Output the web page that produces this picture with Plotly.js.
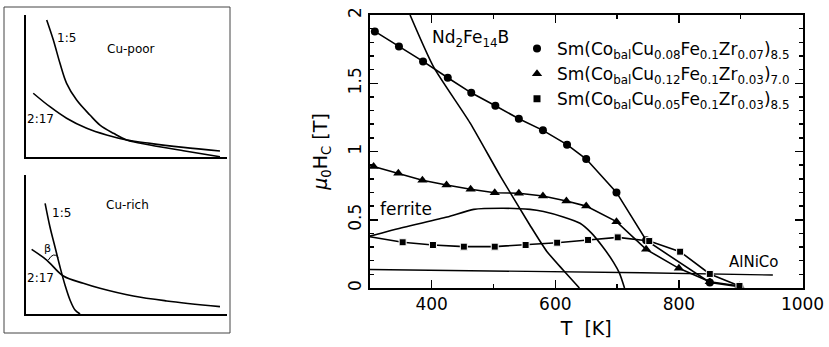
<!DOCTYPE html>
<html>
<head>
<meta charset="utf-8">
<script src="https://cdn.plot.ly/plotly-3.0.1.min.js"></script>
<style>html,body{margin:0;padding:0;background:#fff;}#chart{width:829px;height:347px;}</style>
</head>
<body>
<div id="chart"></div>
<script>
// ---------- main plot data (T in K, mu0Hc in T) ----------
const seriesNames = [
  'Sm(Co<sub>bal</sub>Cu<sub>0.08</sub>Fe<sub>0.1</sub>Zr<sub>0.07</sub>)<sub>8.5</sub>',
  'Sm(Co<sub>bal</sub>Cu<sub>0.12</sub>Fe<sub>0.1</sub>Zr<sub>0.03</sub>)<sub>7.0</sub>',
  'Sm(Co<sub>bal</sub>Cu<sub>0.05</sub>Fe<sub>0.1</sub>Zr<sub>0.03</sub>)<sub>8.5</sub>'
];
const T_circ = [308, 347, 386, 426, 464, 503, 541, 580, 619, 650, 699, 747, 850, 898];
const H_circ = [1.88, 1.77, 1.66, 1.54, 1.43, 1.335, 1.24, 1.155, 1.05, 0.945, 0.70, 0.35, 0.04, 0.01];
const T_tri = [306, 346, 385, 424, 463, 502, 541, 580, 618, 650, 699, 747, 800, 850, 898];
const H_tri = [0.89, 0.84, 0.79, 0.755, 0.723, 0.698, 0.694, 0.674, 0.637, 0.60, 0.486, 0.283, 0.144, 0.046, 0.015];
const T_sq = [300, 353, 402, 452, 502, 552, 603, 653, 701, 752, 802, 850, 898];
const H_sq = [0.376, 0.335, 0.315, 0.303, 0.303, 0.315, 0.332, 0.352, 0.371, 0.344, 0.266, 0.103, 0.015];
const T_nd = [365, 403, 462, 511, 559, 586, 613, 639];
const H_nd = [2.0, 1.62, 1.21, 0.82, 0.46, 0.27, 0.13, 0.0];
const T_fer = [300, 355, 425, 468, 516, 559, 581, 613, 640, 659, 677, 694, 704, 712];
const H_fer = [0.38, 0.445, 0.52, 0.576, 0.584, 0.576, 0.56, 0.52, 0.474, 0.40, 0.30, 0.19, 0.107, 0.0];
const T_alnico = [300, 740, 952];
const H_alnico = [0.135, 0.112, 0.095];
const xTicks = [400, 600, 800, 1000];
const yTicks = [0, 0.5, 1, 1.5, 2];

// ---------- schematic panels (normalised T, K1) ----------
const poor15_x = [0.103, 0.136, 0.169, 0.202, 0.252, 0.318, 0.368, 0.435, 0.501, 0.617, 0.783, 0.965];
const poor15_y = [0.965, 0.824, 0.660, 0.519, 0.401, 0.296, 0.225, 0.167, 0.120, 0.085, 0.044, 0.002];
const poor217_x = [0.036, 0.119, 0.202, 0.302, 0.401, 0.501, 0.617, 0.783, 0.965];
const poor217_y = [0.449, 0.354, 0.273, 0.202, 0.155, 0.120, 0.096, 0.068, 0.042];
const rich15_x = [0.095, 0.119, 0.144, 0.169, 0.194, 0.219, 0.244, 0.269];
const rich15_y = [0.796, 0.628, 0.484, 0.340, 0.209, 0.101, 0.029, 0.0];
const rich217_x = [0.028, 0.103, 0.186, 0.285, 0.368, 0.534, 0.700, 0.965];
const rich217_y = [0.465, 0.388, 0.273, 0.221, 0.185, 0.129, 0.094, 0.053];

const FONT = 'DejaVu Sans, Liberation Sans, Arial, sans-serif';
const blk = '#000';

const traces = [
  {x: T_nd, y: H_nd, mode: 'lines', line: {color: blk, width: 1.6, shape: 'spline', smoothing: 0.6}, showlegend: false, xaxis: 'x', yaxis: 'y'},
  {x: T_fer, y: H_fer, mode: 'lines', line: {color: blk, width: 1.6, shape: 'spline', smoothing: 0.6}, showlegend: false},
  {x: T_alnico, y: H_alnico, mode: 'lines', line: {color: blk, width: 1.4}, showlegend: false},
  {x: T_circ, y: H_circ, mode: 'lines+markers', line: {color: blk, width: 1.6}, marker: {symbol: 'circle', size: 8, color: blk}, showlegend: false},
  {x: T_tri, y: H_tri, mode: 'lines+markers', line: {color: blk, width: 1.6}, marker: {symbol: 'triangle-up', size: 9, color: blk}, showlegend: false},
  {x: T_sq, y: H_sq, mode: 'lines+markers', line: {color: blk, width: 1.6}, marker: {symbol: 'square', size: T_sq.map((t, i) => i === 0 ? 0 : 7), color: blk, opacity: 1}, showlegend: false},
  // legend entries (markers only)
  {x: [null], y: [null], mode: 'markers', name: seriesNames[0], marker: {symbol: 'circle', size: 8, color: blk}},
  {x: [null], y: [null], mode: 'markers', name: seriesNames[1], marker: {symbol: 'triangle-up', size: 9, color: blk}},
  {x: [null], y: [null], mode: 'markers', name: seriesNames[2], marker: {symbol: 'square', size: 7, color: blk}},
  // schematic top (Cu-poor)
  {x: poor15_x, y: poor15_y, mode: 'lines', line: {color: blk, width: 1.6, shape: 'spline', smoothing: 1}, xaxis: 'x2', yaxis: 'y2', showlegend: false},
  {x: poor217_x, y: poor217_y, mode: 'lines', line: {color: blk, width: 1.6, shape: 'spline', smoothing: 1}, xaxis: 'x2', yaxis: 'y2', showlegend: false},
  // schematic bottom (Cu-rich)
  {x: rich15_x, y: rich15_y, mode: 'lines', line: {color: blk, width: 1.6, shape: 'spline', smoothing: 1}, xaxis: 'x3', yaxis: 'y3', showlegend: false},
  {x: rich217_x, y: rich217_y, mode: 'lines', line: {color: blk, width: 1.6, shape: 'spline', smoothing: 1}, xaxis: 'x3', yaxis: 'y3', showlegend: false}
];

const W = 829, H = 347;
const px = v => v / W, py = v => 1 - v / H;

const schemAxis = (dom, anchor) => ({domain: dom, anchor: anchor, range: [0, 1], showgrid: false, zeroline: false,
  showticklabels: false, ticks: '', showline: true, linewidth: 2, linecolor: blk, fixedrange: true});

const layout = {
  width: W, height: H,
  margin: {l: 0, r: 0, t: 0, b: 0},
  paper_bgcolor: '#fff', plot_bgcolor: 'rgba(0,0,0,0)',
  font: {family: FONT, color: blk, size: 17},
  showlegend: true,
  legend: {x: px(517), y: py(31), xanchor: 'left', yanchor: 'top', bgcolor: 'rgba(0,0,0,0)',
    font: {family: FONT, size: 17, color: blk}, itemwidth: 30, tracegroupgap: 0},
  xaxis: {domain: [px(369.9), px(802.5)], anchor: 'y', range: [300, 1000], tickvals: xTicks,
    ticktext: xTicks.map(String), ticks: 'inside', ticklen: 8, tickwidth: 1.5, tickcolor: blk,
    minor: {dtick: 100, tick0: 0, ticks: 'inside', ticklen: 4, tickwidth: 1.5, tickcolor: blk},
    showline: true, linewidth: 2, linecolor: blk, mirror: 'allticks', showgrid: false, zeroline: false,
    tickfont: {family: FONT, size: 17},
    title: {text: 'T  [K]', font: {family: FONT, size: 19}, standoff: 8}},
  yaxis: {domain: [py(288), py(15)], anchor: 'x', range: [0, 2], tickvals: yTicks,
    ticktext: ['0', '0.5', '1', '1.5', '2'], tickangle: -90, ticks: 'inside', ticklen: 8, tickwidth: 1.5, tickcolor: blk,
    minor: {dtick: 0.1, tick0: 0, ticks: 'inside', ticklen: 4, tickwidth: 1.5, tickcolor: blk},
    showline: true, linewidth: 2, linecolor: blk, mirror: 'allticks', showgrid: false, zeroline: false,
    tickfont: {family: FONT, size: 17},
    title: {text: '<i>μ</i><sub>0</sub>H<sub>C</sub> [T]', font: {family: FONT, size: 19}, standoff: 12}},
  xaxis2: schemAxis([px(26), px(227)], 'y2'),
  yaxis2: schemAxis([py(157), py(15)], 'x2'),
  xaxis3: schemAxis([px(26), px(227)], 'y3'),
  yaxis3: schemAxis([py(314), py(175)], 'x3'),
  shapes: [
    {type: 'rect', xref: 'paper', yref: 'paper', x0: px(4), x1: px(230), y0: py(333), y1: py(7),
      line: {color: '#444', width: 1}},
    {type: 'path', xref: 'x3', yref: 'y3', path: 'M 0.111 0.388 Q 0.136 0.45 0.161 0.408',
      line: {color: blk, width: 1}}
  ],
  annotations: [
    {text: 'Nd<sub>2</sub>Fe<sub>14</sub>B', xref: 'x', yref: 'y', x: 462, y: 1.83, showarrow: false, font: {size: 17}},
    {text: 'ferrite', xref: 'x', yref: 'y', x: 358, y: 0.58, showarrow: false, font: {size: 17}},
    {text: 'AlNiCo', xref: 'x', yref: 'y', x: 921, y: 0.19, showarrow: false, font: {size: 15}},
    // top schematic labels
    {text: 'K<sub>1</sub>', xref: 'x2', yref: 'y2', x: -0.045, y: 0.986, showarrow: false, font: {size: 12}},
    {text: '1:5', xref: 'x2', yref: 'y2', x: 0.199, y: 0.838, showarrow: false, font: {size: 12}},
    {text: 'Cu-poor', xref: 'x2', yref: 'y2', x: 0.522, y: 0.761, showarrow: false, font: {size: 12}},
    {text: '2:17', xref: 'x2', yref: 'y2', x: 0.070, y: 0.268, showarrow: false, font: {size: 12}},
    {text: 'T', xref: 'x2', yref: 'y2', x: 0.965, y: -0.063, showarrow: false, font: {size: 12}},
    // bottom schematic labels
    {text: 'K<sub>1</sub>', xref: 'x3', yref: 'y3', x: -0.06, y: 1.029, showarrow: false, font: {size: 12}},
    {text: '1:5', xref: 'x3', yref: 'y3', x: 0.179, y: 0.727, showarrow: false, font: {size: 12}},
    {text: 'Cu-rich', xref: 'x3', yref: 'y3', x: 0.507, y: 0.784, showarrow: false, font: {size: 12}},
    {text: 'β', xref: 'x3', yref: 'y3', x: 0.109, y: 0.470, showarrow: false, font: {size: 11}},
    {text: '2:17', xref: 'x3', yref: 'y3', x: 0.070, y: 0.259, showarrow: false, font: {size: 12}},
    {text: 'T', xref: 'x3', yref: 'y3', x: 0.945, y: -0.079, showarrow: false, font: {size: 12}}
  ]
};

Plotly.newPlot('chart', traces, layout, {staticPlot: true, displayModeBar: false});
</script>
</body>
</html>
